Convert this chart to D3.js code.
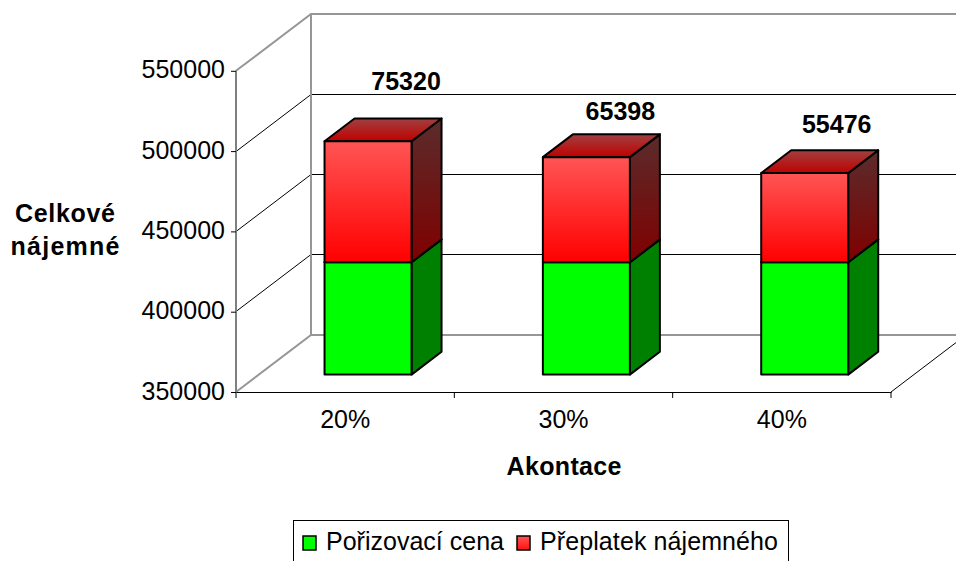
<!DOCTYPE html>
<html>
<head>
<meta charset="utf-8">
<script src="https://cdn.jsdelivr.net/npm/d3@7"></script>
<style>
  html, body { margin: 0; padding: 0; background: #fff; overflow: hidden; }
  text { font-family: "Liberation Sans", Arial, sans-serif; fill: #000; }
</style>
</head>
<body>
<div id="chart-area"></div>
<script>
/* DATA */
const categories = ['20%', '30%', '40%'];
const purchasePrice = [420000, 420000, 420000];
const overpayment = [75320, 65398, 55476];
const seriesNames = ['Pořizovací cena', 'Přeplatek nájemného'];
const yTicks = [350000, 400000, 450000, 500000, 550000];

/* LAYOUT */
const svgW = 956;
const svgH = 561;
const wallDx = 75; // how far the back wall is shifted from the front of the floor
const wallDy = -57;
const barFrontDepth = 0.305; // bars sit part way into the floor
const barDepth = 0.4;
const barW = 87;
// data labels are not centred the same way on each bar in the original
const labelDx = [38, 34, 32];
const labelDy = [-51, -37, -40];

const svg = d3
  .select('#chart-area')
  .append('svg')
  .attr('width', svgW)
  .attr('height', svgH)
  .style('display', 'block');

// Scales
const x = d3.scaleBand().domain(categories).range([236, 891]);
const y = d3.scaleLinear().domain([350000, 550000]).range([392, 70.8]);
const crisp = (v) => Math.floor(v) + 0.5;

// Gradients
const defs = svg.append('defs');
function gradient(id, stops) {
  const g = defs
    .append('linearGradient')
    .attr('id', id)
    .attr('x1', 0)
    .attr('y1', 0)
    .attr('x2', 0)
    .attr('y2', 1);
  stops.forEach((s, i) => {
    g.append('stop')
      .attr('offset', i / (stops.length - 1))
      .attr('stop-color', s);
  });
}
gradient('redFront', ['#ff5555', '#ff0000']);
gradient('redSide', ['#5a2c2c', '#800000']);
gradient('redTop', ['#a04040', '#c00000']);
gradient('legendRed', ['#ff5555', '#ff1111']);

// Walls and floor
const gray = '#969696';
const wall = svg.append('g').attr('fill', 'none');

yTicks.slice(1, -1).forEach((t) => {
  wall
    .append('path')
    .attr('stroke', '#000')
    .attr('stroke-width', 1)
    .attr(
      'd',
      `M236,${crisp(y(t))}L${236 + wallDx},${crisp(y(t) + wallDy)}H${svgW}`
    );
});
[550000, 350000].forEach((t) => {
  wall
    .append('path')
    .attr('stroke', gray)
    .attr('stroke-width', 2)
    .attr('d', `M236,${y(t)}L${236 + wallDx},${Math.round(y(t) + wallDy + 0.3)}H${svgW}`);
});
wall
  .append('line')
  .attr('stroke', gray)
  .attr('stroke-width', 2)
  .attr('x1', 236 + wallDx)
  .attr('x2', 236 + wallDx)
  .attr('y1', y(550000) + wallDy)
  .attr('y2', y(350000) + wallDy);
wall
  .append('line')
  .attr('stroke', '#808080')
  .attr('stroke-width', 2)
  .attr('x1', 236)
  .attr('x2', 236)
  .attr('y1', y(550000))
  .attr('y2', y(350000));
wall
  .append('line')
  .attr('stroke', '#000')
  .attr('x1', 891)
  .attr('y1', y(350000))
  .attr('x2', 891 + wallDx)
  .attr('y2', y(350000) + wallDy);

// Axes
const yAxis = svg
  .append('g')
  .attr('transform', 'translate(236,0)')
  .call(
    d3
      .axisLeft(y)
      .tickValues(yTicks)
      .tickFormat(d3.format('d'))
      .tickSizeOuter(0)
      .tickSize(5)
  );
yAxis.select('.domain').remove();
yAxis.selectAll('line').attr('stroke', '#000');
yAxis
  .selectAll('text')
  .attr('x', -11)
  .attr('y', -2)
  .attr('dy', '0.36em')
  .style('font-size', '25px');

const xAxis = svg
  .append('g')
  .attr('transform', `translate(0,${y(350000)})`)
  .call(d3.axisBottom(x).tickSize(0).tickSizeOuter(0));
xAxis.select('.domain').attr('stroke', '#000').attr('stroke-width', 1.2);
xAxis
  .selectAll('text')
  .attr('y', 36)
  .attr('dy', 0)
  .style('font-size', '25px');
xAxis
  .selectAll('line.band-tick')
  .data(x.domain().map((d) => x(d)).concat([x.range()[1]]))
  .enter()
  .append('line')
  .attr('class', 'band-tick')
  .attr('stroke', '#000')
  .attr('x1', (d) => d)
  .attr('x2', (d) => d)
  .attr('y1', 0)
  .attr('y2', 6);

// Bars
function box(g, xf, yBottom, yTop, fills) {
  const dx = barDepth * wallDx;
  const dy = barDepth * wallDy;
  g.append('path')
    .attr('fill', fills.side)
    .attr(
      'd',
      `M${xf + barW},${yBottom}L${xf + barW + dx},${yBottom + dy}V${yTop + dy}L${xf + barW},${yTop}Z`
    );
  g.append('path')
    .attr('fill', fills.top)
    .attr(
      'd',
      `M${xf},${yTop}L${xf + dx},${yTop + dy}H${xf + barW + dx}L${xf + barW},${yTop}Z`
    );
  g.append('rect')
    .attr('fill', fills.front)
    .attr('x', xf)
    .attr('y', yTop)
    .attr('width', barW)
    .attr('height', yBottom - yTop);
}

const shiftX = barFrontDepth * wallDx;
const shiftY = barFrontDepth * wallDy;

categories.forEach((c, i) => {
  const g = svg
    .append('g')
    .attr('stroke', '#000')
    .attr('stroke-width', 2)
    .attr('stroke-linejoin', 'round');
  const xf = x(c) + x.bandwidth() / 2 - barW / 2 + shiftX;
  const total = purchasePrice[i] + overpayment[i];
  box(g, xf, y(350000) + shiftY, y(purchasePrice[i]) + shiftY, {
    side: '#008000',
    top: '#008000',
    front: '#00ff00',
  });
  box(g, xf, y(purchasePrice[i]) + shiftY, y(total) + shiftY, {
    side: 'url(#redSide)',
    top: 'url(#redTop)',
    front: 'url(#redFront)',
  });
});

// Data labels, above the back edge of each bar
svg
  .append('g')
  .selectAll('text')
  .data(categories)
  .enter()
  .append('text')
  .attr('x', (d, i) => x(d) + x.bandwidth() / 2 + shiftX + labelDx[i])
  .attr('y', (d, i) => y(purchasePrice[i] + overpayment[i]) + shiftY + labelDy[i])
  .attr('text-anchor', 'middle')
  .attr('font-size', 25)
  .attr('font-weight', 'bold')
  .text((d, i) => overpayment[i]);

// Axis titles
const yTitle = svg
  .append('text')
  .attr('text-anchor', 'middle')
  .attr('font-size', 25)
  .attr('font-weight', 'bold');
[['Celkové', 222, 100], ['nájemné', 255, 109]].forEach(([t, ty, len]) => {
  yTitle
    .append('tspan')
    .attr('x', 65)
    .attr('y', ty)
    .attr('textLength', len)
    .text(t);
});
svg
  .append('text')
  .attr('x', 564)
  .attr('y', 475)
  .attr('text-anchor', 'middle')
  .attr('font-size', 25)
  .attr('font-weight', 'bold')
  .attr('textLength', 115)
  .text('Akontace');

// Legend
svg
  .append('rect')
  .attr('x', 293.5)
  .attr('y', 520.5)
  .attr('width', 495)
  .attr('height', 60)
  .attr('fill', '#fff')
  .attr('stroke', '#000');
const legendX = [303, 517];
const legendLen = [178, 238];
const legendFill = ['#00ff00', 'url(#legendRed)'];
seriesNames.forEach((name, i) => {
  svg
    .append('rect')
    .attr('x', legendX[i])
    .attr('y', 536)
    .attr('width', 13)
    .attr('height', 14)
    .attr('fill', legendFill[i])
    .attr('stroke', '#000')
    .attr('stroke-width', 1.5);
  svg
    .append('text')
    .attr('x', legendX[i] + 23)
    .attr('y', 550)
    .attr('font-size', 25)
    .attr('textLength', legendLen[i])
    .text(name);
});
</script>
</body>
</html>
